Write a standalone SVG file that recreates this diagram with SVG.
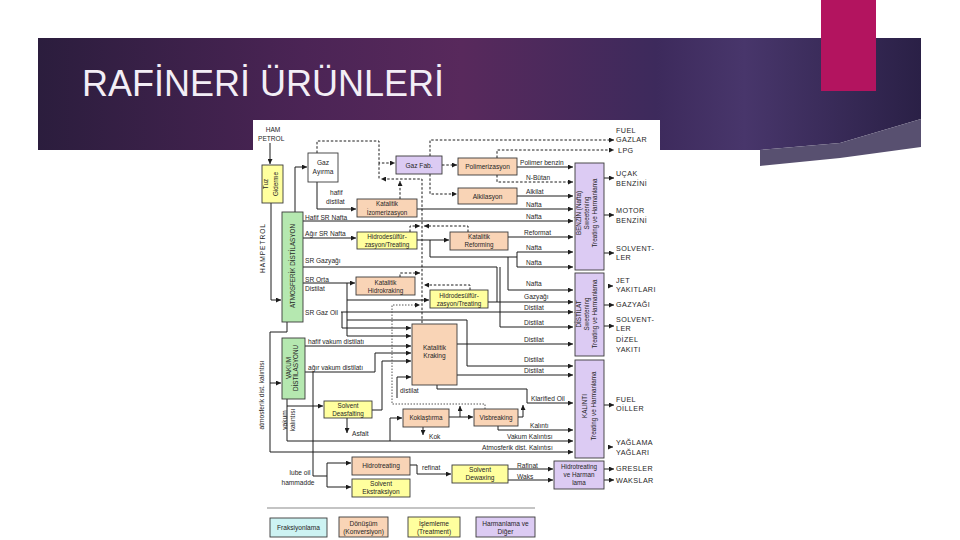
<svg xmlns="http://www.w3.org/2000/svg" width="960" height="540" viewBox="0 0 960 540">
<defs>
<linearGradient id="bg" x1="0" y1="0" x2="1" y2="0">
<stop offset="0" stop-color="#2b1d3d"/>
<stop offset="0.3" stop-color="#4b2455"/>
<stop offset="0.48" stop-color="#58295c"/>
<stop offset="0.7" stop-color="#3d2a5c"/>
<stop offset="0.8" stop-color="#48366b"/>
<stop offset="1" stop-color="#2a2046"/>
</linearGradient>
<marker id="a" viewBox="0 0 6 6" refX="6" refY="3" markerWidth="5" markerHeight="5" markerUnits="userSpaceOnUse" orient="auto"><path d="M0,0 L6,3 L0,6 z" fill="#1c1c1c"/></marker>
<style>
.ln{fill:none;stroke:#1c1c1c;stroke-width:1}
.ds{fill:none;stroke:#1c1c1c;stroke-width:1;stroke-dasharray:2.5 1.8}
.dt{fill:none;stroke:#555;stroke-width:1;stroke-dasharray:1.5 1.5}
.t{font-family:"Liberation Sans",Arial,sans-serif;font-size:6.6px;fill:#262626}
.c{text-anchor:middle}
.o{font-size:7.2px;letter-spacing:0.4px}
.r{font-size:6.3px}
.bx{stroke:#3a3a3a;stroke-width:0.9}
.gr{fill:#b5e8b0}.or{fill:#f9d4b6}.ye{fill:#ffff9e}.pu{fill:#dccbf3}.cy{fill:#cdf3f3}.wh{fill:#fff}
</style>
</defs>
<rect width="960" height="540" fill="#fff"/>
<polygon points="38,38 921,38 921,119 840,143 760,150 38,150" fill="url(#bg)"/>
<polygon points="760,150 840,143 921,119 921,147 840,158 760,166" fill="#585070"/>
<rect x="821" y="0" width="55" height="91" fill="#b3145f"/>
<text x="82" y="96" font-family="Liberation Sans,Arial,sans-serif" font-size="36" fill="#f3eef6">RAFİNERİ ÜRÜNLERİ</text>
<rect x="253" y="120" width="407" height="420" fill="#fff"/>

<g id="connectors">
<path class="ln" d="M270,143 V164" marker-end="url(#a)"/>
<path class="ln" d="M271,203 V300 H281" marker-end="url(#a)"/>
<path class="ln" d="M295,212 V167 H307" marker-end="url(#a)"/>
<path class="ln" d="M317,182 V209 H356" marker-end="url(#a)"/>
<path class="ln" d="M303,221 H573" marker-end="url(#a)"/>
<path class="ln" d="M303,238 H356" marker-end="url(#a)"/>
<path class="ln" d="M417,240 H449" marker-end="url(#a)"/>
<path class="ln" d="M430,240 V257 H517"/>
<path class="ln" d="M508,257 V290 H573" marker-end="url(#a)"/>
<path class="ln" d="M517,252 V267 H573" marker-end="url(#a)"/>
<path class="ln" d="M517,252 H573" marker-end="url(#a)"/>
<path class="ln" d="M508,237 H573" marker-end="url(#a)"/>
<path class="ln" d="M417,209 H573" marker-end="url(#a)"/>
<path class="ln" d="M517,167 H573" marker-end="url(#a)"/>
<path class="ln" d="M517,196 H573" marker-end="url(#a)"/>
<path class="ln" d="M303,267 H497 V302 H573" marker-end="url(#a)"/>
<path class="ln" d="M488,302 H497"/>
<path class="ln" d="M500,267 V327 H573" marker-end="url(#a)"/>
<path class="ln" d="M303,283 H355" marker-end="url(#a)"/>
<path class="ln" d="M347,283 V336 H411" marker-end="url(#a)"/>
<path class="ln" d="M347,300 H429" marker-end="url(#a)"/>
<path class="ln" d="M347,320 H467 V366 H573" marker-end="url(#a)"/>
<path class="ln" d="M341,312 H573" marker-end="url(#a)"/>
<path class="ln" d="M342,312 V328 H411" marker-end="url(#a)"/>
<path class="ln" d="M457,344 H573" marker-end="url(#a)"/>
<path class="ln" d="M457,375 H573" marker-end="url(#a)"/>
<path class="ln" d="M305,346 H411" marker-end="url(#a)"/>
<path class="ln" d="M305,372 H375 V353 H411" marker-end="url(#a)"/>
<path class="ln" d="M313,372 V476 H327"/>
<path class="ln" d="M327,463 V487"/>
<path class="ln" d="M327,463 H351" marker-end="url(#a)"/>
<path class="ln" d="M327,487 H351" marker-end="url(#a)"/>
<path class="ln" d="M372,410 H382 V361 H411" marker-end="url(#a)"/>
<path class="ln" d="M437,385 V389 H527 V403 H573" marker-end="url(#a)"/>
<path class="ln" d="M397,398 V377 H411" marker-end="url(#a)"/>
<path class="ln" d="M287,322 V332 H270 V452 H573" marker-end="url(#a)"/>
<path class="ln" d="M270,383 H281" marker-end="url(#a)"/>
<path class="ln" d="M287,399 V441 H573" marker-end="url(#a)"/>
<path class="ln" d="M287,406 H323" marker-end="url(#a)"/>
<path class="ln" d="M390,441 V418 H402" marker-end="url(#a)"/>
<path class="ln" d="M347,418 V433" stroke="#777" marker-end="url(#a)"/>
<path class="ln" d="M423,427 V435" marker-end="url(#a)"/>
<path class="ln" d="M449,417 H473" marker-end="url(#a)"/>
<path class="ln" d="M460,417 V406" marker-end="url(#a)"/>
<path class="ln" d="M518,417 H523 V405" marker-end="url(#a)"/>
<path class="ln" d="M498,426 V430 H573" marker-end="url(#a)"/>
<path class="ln" d="M410,465 H417 V474 H451" marker-end="url(#a)"/>
<path class="ln" d="M508,469 H553" marker-end="url(#a)"/>
<path class="ln" d="M508,480 H553" marker-end="url(#a)"/>
<path class="ln" d="M604,178 H614" marker-end="url(#a)"/>
<path class="ln" d="M604,215 H614" marker-end="url(#a)"/>
<path class="ln" d="M604,253 H614" marker-end="url(#a)"/>
<path class="ln" d="M608,286 H613" marker-end="url(#a)"/>
<path class="ln" d="M604,305 H614" marker-end="url(#a)"/>
<path class="ln" d="M604,326 H614" marker-end="url(#a)"/>
<path class="ln" d="M604,405 H614" marker-end="url(#a)"/>
<path class="ln" d="M608,447 H613" marker-end="url(#a)"/>
<path class="ln" d="M604,469 H614" marker-end="url(#a)"/>
<path class="ln" d="M604,480 H614" marker-end="url(#a)"/>
<path class="ds" d="M317,153 V141 H379 V163 H395" marker-end="url(#a)"/>
<path class="ds" d="M379,163 V179"/>
<path class="ds" d="M422,323 V179 H381" marker-end="url(#a)"/>
<path class="ds" d="M400,199 V181" marker-end="url(#a)"/>
<path class="ds" d="M430,156 V140 H614" marker-end="url(#a)"/>
<path class="ds" d="M430,174 V194 H457" marker-end="url(#a)"/>
<path class="ds" d="M442,165 H457" marker-end="url(#a)"/>
<path class="ds" d="M497,158 V150 H614" marker-end="url(#a)"/>
<path class="ds" d="M497,175 V182 H573" marker-end="url(#a)"/>
<path class="ds" d="M410,232 V226 H420" marker-end="url(#a)"/>
<path class="ds" d="M468,232 V226 H424" marker-end="url(#a)"/>
<path class="ds" d="M400,277 V273 H420" marker-end="url(#a)"/>
<path class="ds" d="M470,290 V285 H424" marker-end="url(#a)"/>
<path class="dt" d="M485,409 V404 H392 V305 H420" marker-end="url(#a)"/>
</g>

<g id="ham-petrol"><text class="t c" x="273" y="132" font-size="7">HAM</text><text class="t" x="258" y="141" font-size="7">PETROL</text></g>
<g id="tuz-giderme"><rect class="bx ye" x="262" y="165" width="21" height="38"/><g transform="translate(272.5,184) rotate(-90)"><text class="t c r" y="-5">Tuz</text><text class="t c r" y="5">Giderme</text></g></g>
<g id="hampetrol-lbl" transform="translate(265,248) rotate(-90)"><text class="t c" font-size="7.5" letter-spacing="1">HAMPETROL</text></g>
<g id="atmosferik"><rect class="bx gr" x="282" y="212" width="21" height="110"/><g transform="translate(292.5,266) rotate(-90)"><text class="t c r" y="2.2">ATMOSFERİK DİSTİLASYON</text></g></g>
<g id="vakum"><rect class="bx gr" x="282" y="338" width="23" height="61"/><g transform="translate(293.5,368) rotate(-90)"><text class="t c r" y="-3">VAKUM</text><text class="t c r" y="4.5">DİSTİLASYONU</text></g></g>
<g id="atm-kalinti-lbl" transform="translate(264,395) rotate(-90)"><text class="t c" font-size="6.2">atmosferik dist. kalıntısı</text></g>
<g id="vak-kalinti-lbl" transform="translate(288,420) rotate(-90)"><text class="t c" font-size="6.2" y="-1.5">vakum</text><text class="t c" font-size="6.2" y="7">kalıntısı</text></g>
<g id="gaz-ayirma"><rect class="bx wh" x="308" y="153" width="30" height="29"/><text class="t c" x="323" y="165">Gaz</text><text class="t c" x="323" y="174">Ayırma</text></g>
<g id="izomerizasyon"><rect class="bx or" x="357" y="199" width="60" height="18"/><text class="t c r" x="387" y="206">Katalitik</text><text class="t c r" x="387" y="214.5">İzomerizasyon</text></g>
<g id="hds1"><rect class="bx ye" x="357" y="232" width="60" height="17"/><text class="t c r" x="387" y="239">Hidrodesülfür-</text><text class="t c r" x="387" y="247">zasyon/Treating</text></g>
<g id="hidrokraking"><rect class="bx or" x="356" y="277" width="59" height="18"/><text class="t c r" x="385.5" y="284.5">Katalitik</text><text class="t c r" x="385.5" y="292.5">Hidrokraking</text></g>
<g id="gaz-fab"><rect class="bx pu" x="396" y="156" width="46" height="18"/><text class="t c" x="419" y="167.5">Gaz Fab.</text></g>
<g id="polimerizasyon"><rect class="bx or" x="458" y="158" width="59" height="17"/><text class="t c" x="487.5" y="169">Polimerizasyon</text></g>
<g id="alkilasyon"><rect class="bx or" x="458" y="188" width="59" height="16"/><text class="t c" x="487.5" y="198.5">Alkilasyon</text></g>
<g id="reforming"><rect class="bx or" x="450" y="232" width="58" height="18"/><text class="t c r" x="479" y="239">Katalitik</text><text class="t c r" x="479" y="247">Reforming</text></g>
<g id="hds2"><rect class="bx ye" x="430" y="290" width="58" height="18"/><text class="t c r" x="459" y="297.5">Hidrodesülfür-</text><text class="t c r" x="459" y="305.5">zasyon/Treating</text></g>
<g id="kraking"><rect class="bx or" x="412" y="324" width="45" height="61"/><text class="t c" x="434.5" y="350">Katalitik</text><text class="t c" x="434.5" y="358">Kraking</text></g>
<g id="deasfalting"><rect class="bx ye" x="324" y="401" width="48" height="17"/><text class="t c r" x="348" y="407.5">Solvent</text><text class="t c r" x="348" y="415.5">Deasfalting</text></g>
<g id="koklastirma"><rect class="bx or" x="403" y="409" width="46" height="18"/><text class="t c r" x="426" y="420">Koklaştırma</text></g>
<g id="visbreaking"><rect class="bx or" x="474" y="409" width="44" height="17"/><text class="t c r" x="496" y="420">Visbreaking</text></g>
<g id="hidrotreating"><rect class="bx or" x="352" y="457" width="58" height="18"/><text class="t c" x="381" y="468">Hidrotreating</text></g>
<g id="ekstraksiyon"><rect class="bx ye" x="352" y="479" width="58" height="18"/><text class="t c" x="381" y="486">Solvent</text><text class="t c" x="381" y="494">Ekstraksiyon</text></g>
<g id="dewaxing"><rect class="bx ye" x="452" y="465" width="56" height="18"/><text class="t c" x="480" y="472">Solvent</text><text class="t c" x="480" y="480">Dewaxing</text></g>
<g id="benzin-box"><rect class="bx pu" x="575" y="163" width="29" height="107"/><g transform="translate(589.5,213) rotate(-90)"><text class="t c r" y="-8.5">BENZİN (Nafta)</text><text class="t c r" y="-0.5">Sweetening</text><text class="t c r" y="7.5">Treating ve Harmanlama</text></g></g>
<g id="distilat-box"><rect class="bx pu" x="575" y="273" width="29" height="83"/><g transform="translate(589.5,314) rotate(-90)"><text class="t c r" y="-8.5">DİSTİLAT</text><text class="t c r" y="-0.5">Sweetening</text><text class="t c r" y="7.5">Treating ve Harmanlama</text></g></g>
<g id="kalinti-box"><rect class="bx pu" x="575" y="360" width="29" height="98"/><g transform="translate(589.5,406) rotate(-90)"><text class="t c r" y="-3">KALINTI</text><text class="t c r" y="6">Treating ve Harmanlama</text></g></g>
<g id="harmanlama-box"><rect class="bx pu" x="554" y="461" width="50" height="28"/><text class="t c r" x="579" y="468.5">Hidrotreating</text><text class="t c r" x="579" y="476.5">ve Harman</text><text class="t c r" x="579" y="485">lama</text></g>

<g id="stream-labels">
<text class="t" x="330" y="195">hafif</text><text class="t" x="326" y="204">distilat</text>
<text class="t" x="305" y="219.5">Hafif SR Nafta</text>
<text class="t" x="305" y="236">Ağır SR Nafta</text>
<text class="t" x="305" y="262.5">SR Gazyağı</text>
<text class="t" x="305" y="281.5">SR Orta</text><text class="t" x="305" y="290.5">Distilat</text>
<text class="t" x="305" y="314.5">SR Gaz Oil</text>
<text class="t" x="308" y="344">hafif vakum distilatı</text>
<text class="t" x="308" y="369.5">ağır vakum distilatı</text>
<text class="t" x="400" y="393">distilat</text>
<text class="t" x="352" y="436">Asfalt</text>
<text class="t" x="429" y="439">Kok</text>
<text class="t" x="531" y="401">Klarified Oil</text>
<text class="t" x="530" y="428">Kalıntı</text>
<text class="t" x="507" y="439">Vakum Kalıntısı</text>
<text class="t" x="482" y="450">Atmosferik dist. Kalıntısı</text>
<text class="t" x="422" y="470">refinat</text>
<text class="t c" x="300" y="475">lube oil</text><text class="t c" x="298" y="485">hammadde</text>
<text class="t" x="517" y="467.5">Rafinat</text>
<text class="t" x="517" y="478.5">Waks</text>
<text class="t" x="520" y="165">Polimer benzin</text>
<text class="t" x="526" y="180">N-Bütan</text>
<text class="t" x="526" y="194">Alkilat</text>
<text class="t" x="526" y="206.5">Nafta</text>
<text class="t" x="526" y="219">Nafta</text>
<text class="t" x="524" y="235">Reformat</text>
<text class="t" x="526" y="249.5">Nafta</text>
<text class="t" x="526" y="264.5">Nafta</text>
<text class="t" x="526" y="286">Nafta</text>
<text class="t" x="524" y="299">Gazyağı</text>
<text class="t" x="524" y="310">Distilat</text>
<text class="t" x="524" y="325">Distilat</text>
<text class="t" x="524" y="341.5">Distilat</text>
<text class="t" x="524" y="362">Distilat</text>
<text class="t" x="524" y="372.5">Distilat</text>
</g>

<g id="products">
<text class="t o" x="616" y="133">FUEL</text><text class="t o" x="616" y="142">GAZLAR</text>
<text class="t o" x="618" y="153">LPG</text>
<text class="t o" x="616" y="176">UÇAK</text><text class="t o" x="616" y="186">BENZİNİ</text>
<text class="t o" x="616" y="213">MOTOR</text><text class="t o" x="616" y="222.5">BENZİNİ</text>
<text class="t o" x="616" y="251">SOLVENT-</text><text class="t o" x="616" y="260">LER</text>
<text class="t o" x="616" y="283">JET</text><text class="t o" x="616" y="292">YAKITLARI</text>
<text class="t o" x="616" y="306.5">GAZYAĞI</text>
<text class="t o" x="616" y="322">SOLVENT-</text><text class="t o" x="616" y="331">LER</text>
<text class="t o" x="616" y="342">DİZEL</text><text class="t o" x="616" y="352">YAKITI</text>
<text class="t o" x="616" y="402">FUEL</text><text class="t o" x="616" y="411">OİLLER</text>
<text class="t o" x="616" y="445">YAĞLAMA</text><text class="t o" x="616" y="454.5">YAĞLARI</text>
<text class="t o" x="616" y="471">GRESLER</text>
<text class="t o" x="616" y="482.5">WAKSLAR</text>
</g>

<g id="legend">
<line x1="267" y1="508" x2="535" y2="508" stroke="#c4c4c4" stroke-width="2"/>
<rect class="bx cy" x="270" y="518" width="57" height="19"/><text class="t c" x="298.5" y="530">Fraksiyonlama</text>
<rect class="bx or" x="339" y="517" width="49" height="20"/><text class="t c" x="363.5" y="525.5">Dönüşüm</text><text class="t c" x="363.5" y="533.5">(Konversiyon)</text>
<rect class="bx ye" x="408" y="517" width="52" height="20"/><text class="t c" x="434" y="525.5">İşlemleme</text><text class="t c" x="434" y="533.5">(Treatment)</text>
<rect class="bx pu" x="476" y="517" width="59" height="20"/><text class="t c" x="505.5" y="525.5">Harmanlama ve</text><text class="t c" x="505.5" y="533.5">Diğer</text>
</g>
</svg>
